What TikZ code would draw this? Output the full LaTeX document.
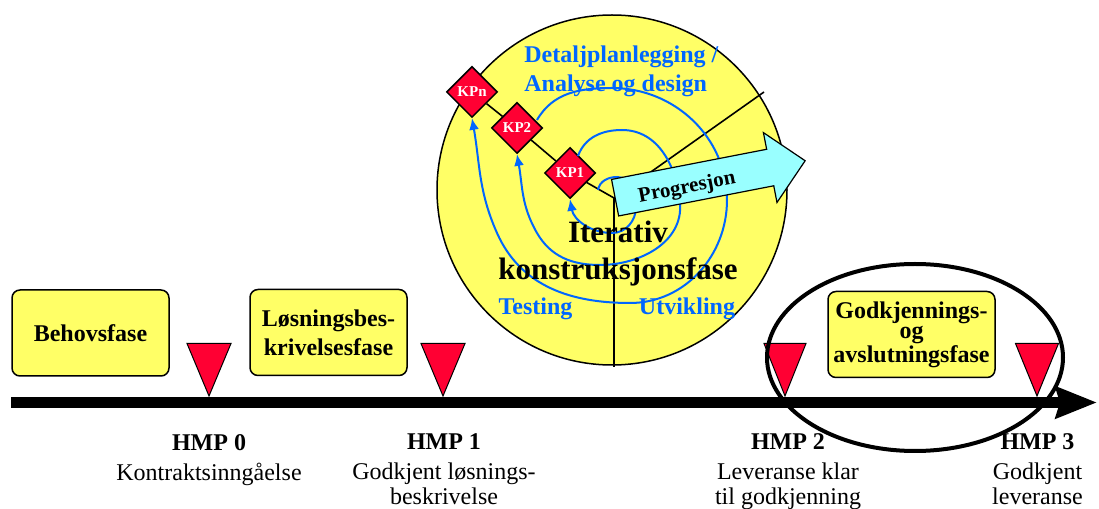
\documentclass[tikz,border=0pt]{standalone}
\usepackage{fontspec}
\setmainfont{Liberation Serif}
\usetikzlibrary{shapes.geometric,shapes.arrows,arrows.meta}
\definecolor{phaseyellow}{RGB}{255,255,102}
\definecolor{hmpred}{RGB}{255,0,51}
\definecolor{spiralblue}{RGB}{0,102,255}
\definecolor{progcyan}{RGB}{153,255,255}

\begin{document}
\begin{tikzpicture}[x=0.5pt,y=0.5pt,
  phase/.style={draw,line width=0.75pt,fill=phaseyellow,rounded corners=4pt,minimum width=78.5pt,minimum height=43pt,align=center,inner sep=0pt,font=\fontsize{12}{14.5}\selectfont\bfseries},
  kp/.style={draw,diamond,line width=0.75pt,fill=hmpred,minimum size=25.5pt,inner sep=0pt,text=white,font=\fontsize{7.5}{8}\selectfont\bfseries},
  hmplabel/.style={anchor=base,align=center,inner sep=0pt,font=\fontsize{12}{12.5}\selectfont},
  spiral/.style={draw,spiralblue,line width=1pt,-{Latex[length=5.8pt,width=5pt]}},
  bluetext/.style={text=spiralblue,inner sep=0pt,font=\fontsize{12}{14.5}\selectfont\bfseries}]

\useasboundingbox (0,0) rectangle (1099,509);

% iterativ konstruksjonsfase
\node[draw,circle,line width=0.75pt,fill=phaseyellow,minimum size=175pt,inner sep=0pt] (iter) at (612,319) {};
\coordinate (mid) at (614,311);
\coordinate (ne) at (764,417);
\coordinate (bot) at (614,142);
\path[draw,line width=0.8pt] (mid) -- (ne);
\path[draw,line width=0.8pt] (mid) -- (bot);

\node[kp] (KPn) at (472,417) {KPn};
\node[kp] (KP2) at (517,381) {KP2};
\node[kp] (KP1) at (570,336) {KP1};
\path[draw,line width=0.8pt] (KPn) -- (KP2);
\path[draw,line width=0.8pt] (KP2) -- (KP1);
\path[draw,line width=0.8pt] (KP1) -- (mid);

\path[spiral] (598,319) to[out=80,in=180] (617,332) to[out=0,in=90] (636,302) to[out=-90,in=0] (612,276) to[out=180,in=-80] (KP1.south);
\path[spiral] (578,353) to[out=70,in=180] (622,379) to[out=0,in=95] (680,306) to[out=-85,in=0] (600,244) to[out=180,in=-60] (537,276) to[out=120,in=-80] (KP2.south);
\path[spiral] (537,389) to[out=60,in=180] (612,421) to[out=0,in=90] (727,309) to[out=-90,in=0] (630,206) to[out=180,in=-66] (497,276) to[out=114,in=-80] (KPn.south);

\node[draw,single arrow,line width=0.6pt,fill=progcyan,rotate=11,minimum height=96.8pt,inner xsep=0pt,inner ysep=9pt,single arrow head extend=8.5pt] (prog) at (701,328) {};
\node[rotate=11,inner sep=0pt,font=\fontsize{10.5}{12}\selectfont\bfseries] (progtext) at (687,321) {Progresjon};

\node[bluetext,anchor=base west,align=left] (plan) at (524,417) {Detaljplanlegging /\\Analyse og design};
\node[anchor=base,align=center,inner sep=0pt,font=\fontsize{15.5}{18.5}\selectfont\bfseries] (itertext) at (618,229) {Iterativ\\konstruksjonsfase};
\node[bluetext,anchor=base] (test) at (535.5,194) {Testing};
\node[bluetext,anchor=base] (utv) at (687,194) {Utvikling};

% faser
\node[phase] (behov) at (90.5,176) {Behovsfase};
\node[phase] (losning) at (328.5,176.5) {Løsningsbes-\\krivelsesfase};
\node[phase,minimum width=83.5pt,font=\fontsize{12}{10}\selectfont\bfseries] (godkj) at (911.5,174.5) {Godkjennings-\\og\\avslutningsfase};

% tidslinje
\coordinate (start) at (11,106.5);
\coordinate (end) at (1097,106.5);
\path[draw,line width=5.5pt,-{Stealth[length=20.5pt,width=15.5pt,inset=2pt]}] (start) -- (end);

% hovedmilepaeler
\coordinate (hmp0) at (209,113);
\coordinate (hmp1) at (443,113);
\coordinate (hmp2) at (785,113);
\coordinate (hmp3) at (1037,113);
\path[draw,line width=0.5pt,fill=hmpred] (hmp0) -- ++(-22,52.5) -- ++(44,0) -- cycle;
\path[draw,line width=0.5pt,fill=hmpred] (hmp1) -- ++(-22,52.5) -- ++(44,0) -- cycle;
\path[draw,line width=0.5pt,fill=hmpred] (hmp2) -- ++(-21,52.5) -- ++(42,0) -- cycle;
\path[draw,line width=0.5pt,fill=hmpred] (hmp3) -- ++(-21.5,52.5) -- ++(43,0) -- cycle;

\node[hmplabel] (hmp0text) at (209,28) {\textbf{HMP 0}\\[2.5pt]Kontraktsinngåelse};
\node[hmplabel] (hmp1text) at (444,4) {\textbf{HMP 1}\\[2.5pt]Godkjent løsnings-\\beskrivelse};
\node[hmplabel] (hmp2text) at (788,4) {\textbf{HMP 2}\\[2.5pt]Leveranse klar\\til godkjenning};
\node[hmplabel] (hmp3text) at (1037.5,4) {\textbf{HMP 3}\\[2.5pt]Godkjent\\leveranse};

\node[draw,ellipse,line width=2pt,minimum width=148pt,minimum height=93.5pt,inner sep=0pt] (avslutning) at (915,151.5) {};
\end{tikzpicture}
\end{document}
